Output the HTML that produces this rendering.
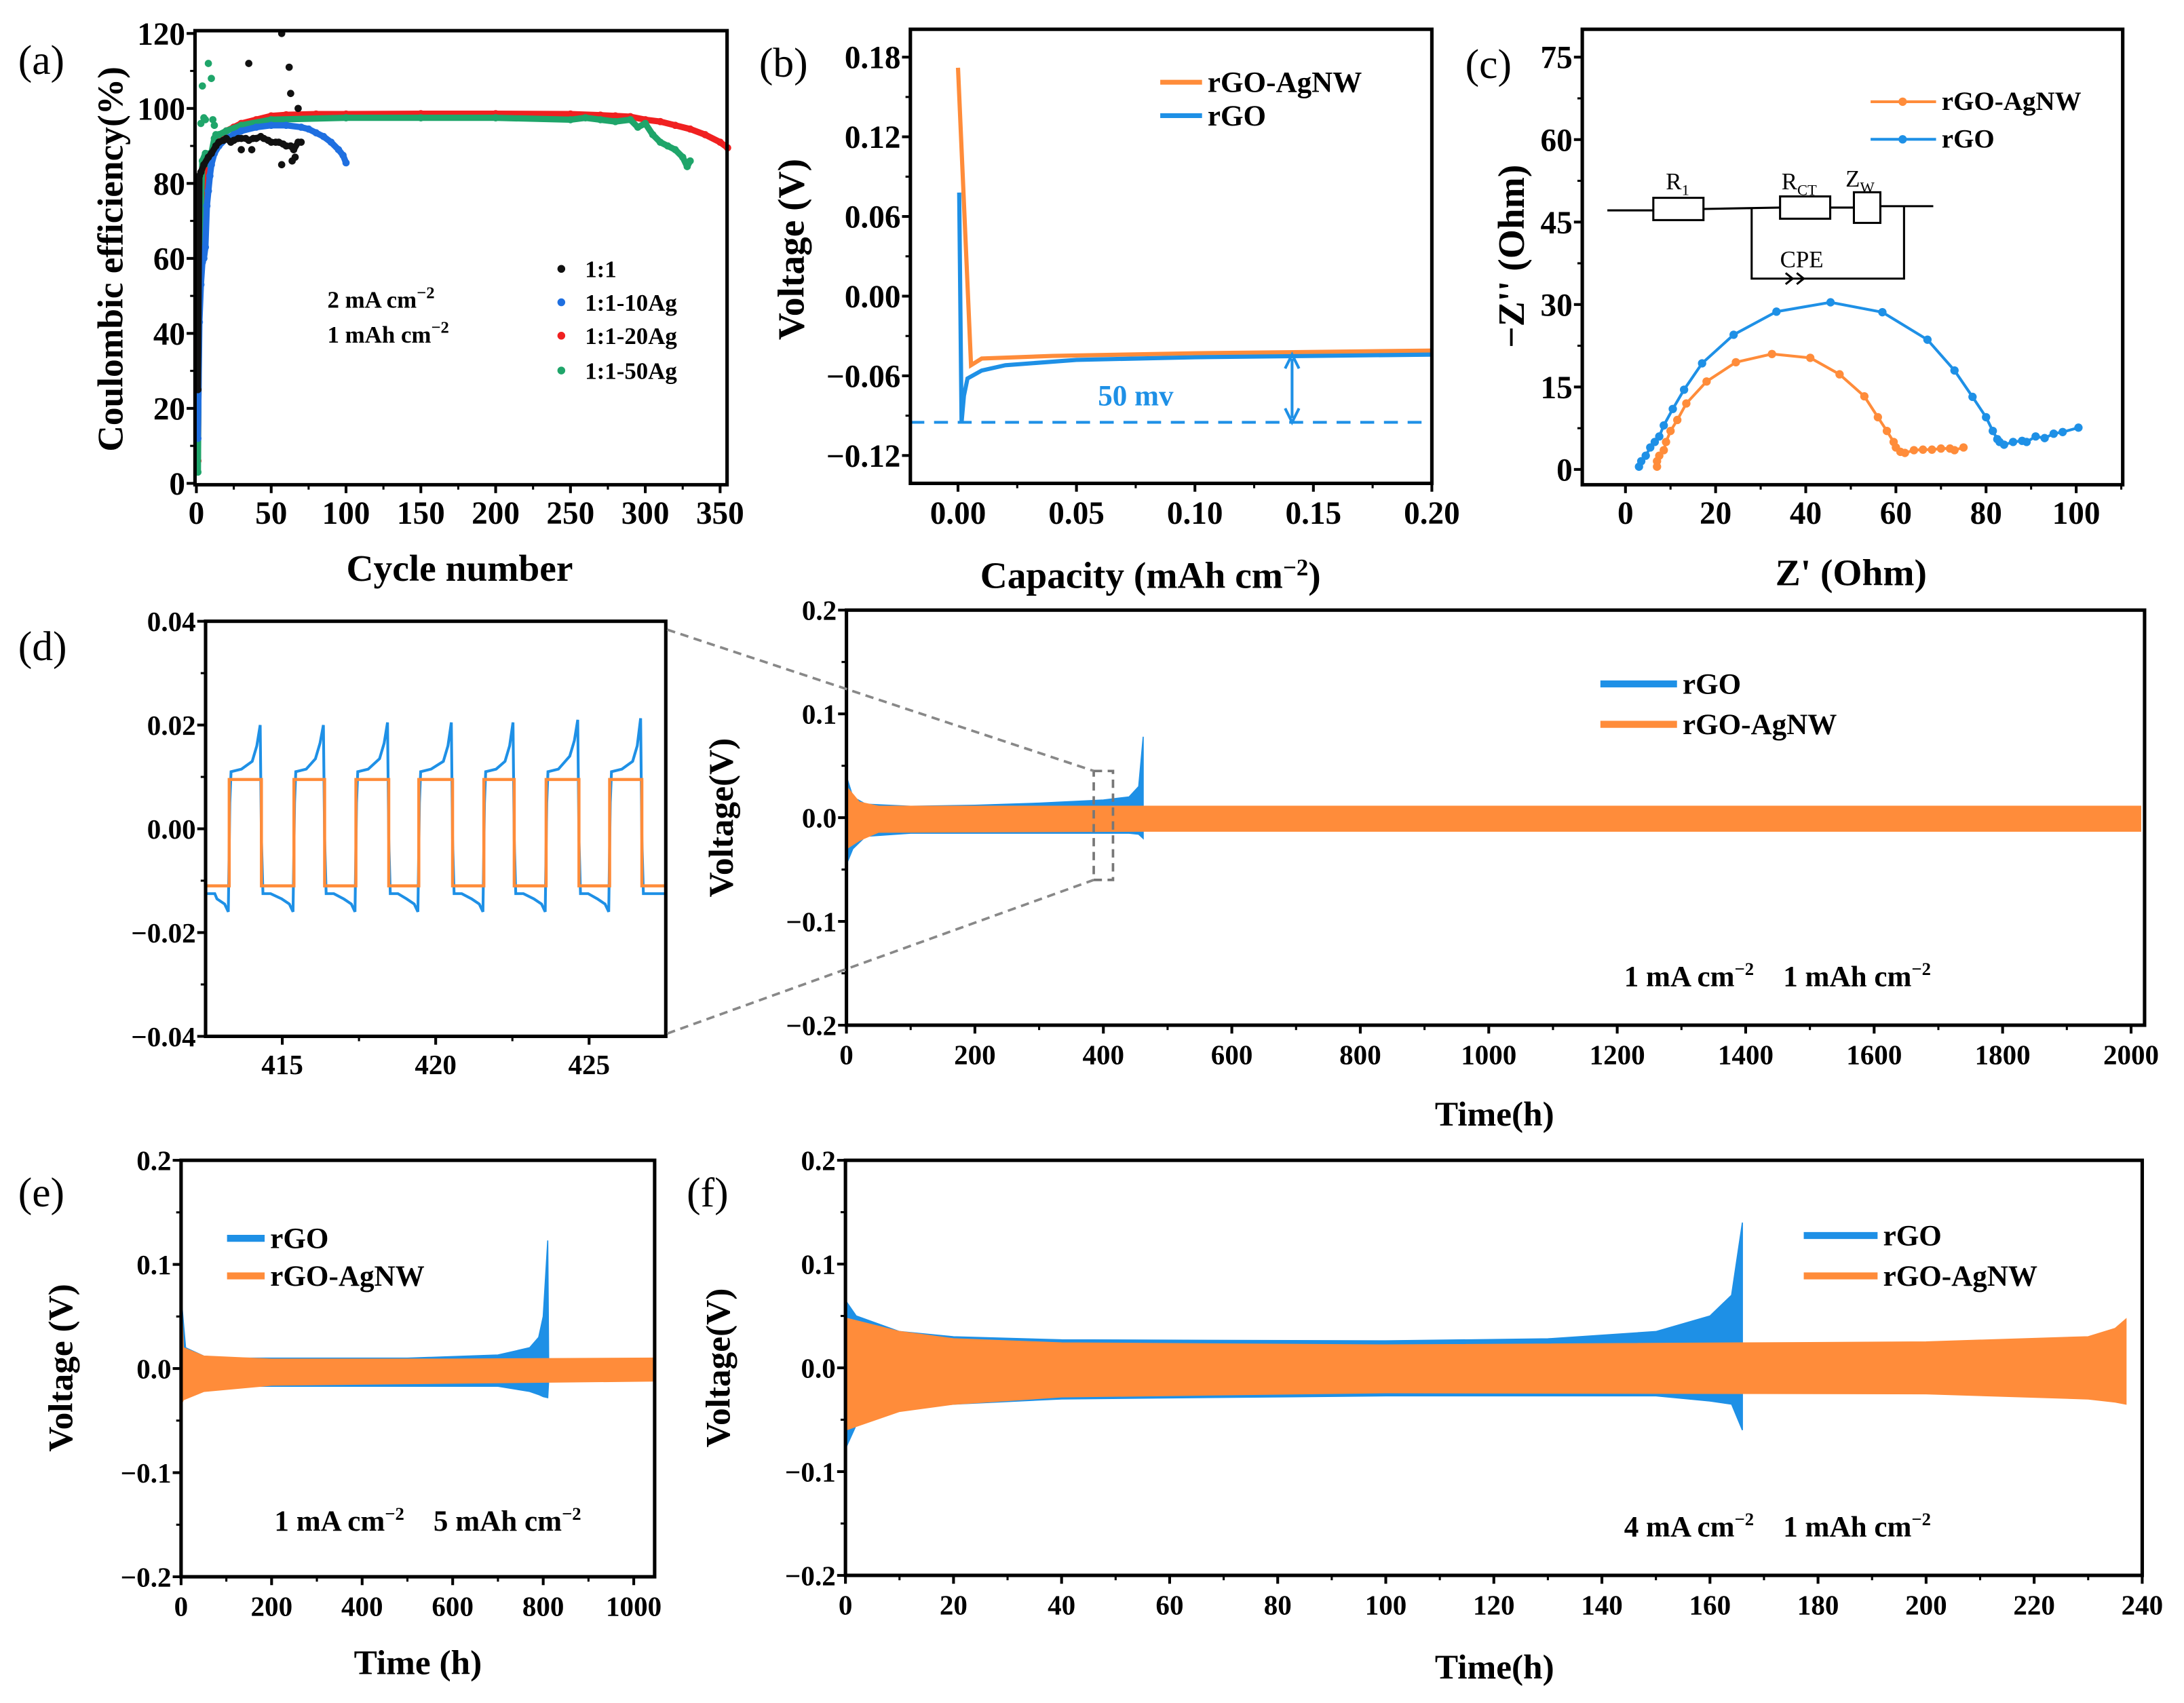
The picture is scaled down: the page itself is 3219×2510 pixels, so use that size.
<!DOCTYPE html>
<html><head><meta charset="utf-8">
<style>
html,body{margin:0;padding:0;background:#fff;}
svg{display:block;}
text{font-family:"Liberation Serif",serif;}
</style></head>
<body>
<svg id="fig" xmlns="http://www.w3.org/2000/svg" width="3219" height="2510" viewBox="0 0 1568 1222.6">
<rect x="0" y="0" width="1568" height="1222.6" fill="#fff"/>
</svg>
<script>
// ---------- DATA ----------
// (a) coulombic efficiency
const aBlackCycles=[1,2,3,5,8,10,13,15,18,20,23,25,28,30,33,35,38,40,43,45,48,50,53,55,58,60,63,65,68,70];
const aBlackCE=[25,82,83,85,87,88,90,91,91.5,92,91,91.5,92,92,92,91.5,92,92,92.5,92,91.5,91,91,91,90.5,90,90,89,91,91];
const aBlackOutC=[35,57,62,63,68,57,30,37,66,64];
const aBlackOutV=[112,120,111,104,100,85,89,89,87,86];
const aBlueCycles=[1,2,3,4,5,6,7,8,9,10,12,15,20,25,30,40,50,60,70,75,80,85,90,95,98,100];
const aBlueCE=[12,43,53,59,60,63,74,78,82,85,88,90,92,93,94,95,95.5,95.5,95,94.5,93.5,92.5,91,89,87.5,85.5];
const aRedCycles=[1,2,3,4,5,6,7,8,10,12,15,20,25,30,40,50,60,80,100,150,200,250,270,280,290,300,310,320,330,340,350,355];
const aRedCE=[6,56,67,70,72,75,81,85,88,90,92,94,95,96,97,98,98.3,98.5,98.5,98.6,98.6,98.5,98.2,98,97.8,97,96.5,95.5,94.5,93,91,89.5];
const aGreenCycles=[1,2,4,6,10,12,13,15,20,30,50,100,150,200,250,260,270,280,290,295,300,305,310,315,320,325,328,330];
const aGreenCE=[3,63,86,88,88,92,93,93,94,95.5,97,97.5,97.5,97.5,97,97.5,97,96.5,97,95,96,93,91,90,89,87,84.5,86];
const aGreenOutC=[3,4,5,6,8,10,11,12,9];
const aGreenOutV=[96,106,97.5,97,112,108,97,95.5,85];
// (b) voltage vs capacity
const bOrangeCap=[0,0.0055,0.01,0.04,0.1,0.2];
const bOrangeV=[0.172,-0.052,-0.047,-0.045,-0.043,-0.041];
const bBlueCap=[0.0005,0.0015,0.0025,0.004,0.01,0.02,0.05,0.1,0.2];
const bBlueV=[0.078,-0.095,-0.075,-0.062,-0.056,-0.052,-0.048,-0.046,-0.044];
// (c) Nyquist
const cOrangeZr=[7,7,7.5,8.5,9,10,11.5,13.5,18,24.5,32.5,41,47.5,53,56,58,59.5,60,61,62,64,66,68,70,72,73,75];
const cOrangeZi=[0.5,1.5,2.5,3.5,5,7,9,12,16,19.5,21,20.3,17.3,13.3,9.5,7,5,4,3.2,3,3.5,3.6,3.6,3.8,3.8,3.5,4];
const cBlueZr=[3,3.5,4.5,5.5,6.5,7.5,8.5,10.5,13,17,24,33.5,45.5,57,67,73,77,80,81.5,82.5,83,84,86,88,89,91,93,95,97,100.5];
const cBlueZi=[0.5,1.5,2.5,4,5,6,8,11,14.5,19.3,24.5,28.7,30.4,28.6,23.6,18,13.2,9.5,7,5.5,5,4.5,5,5.2,5,6,5.7,6.5,6.8,7.6];
// (d) inset square waves
const dRise=[413.27,415.38,417.4,419.45,421.57,423.6,425.67];
const dFall=[414.32,416.38,418.47,420.55,422.56,424.67,426.72];
const dOrangeHigh=[0.0095,0.0095,0.0095,0.0095,0.0095,0.0095,0.0095];
const dOrangeLow=[-0.011,-0.011,-0.011,-0.011,-0.011,-0.011,-0.011];
const dBlueHighStart=[0.011,0.011,0.011,0.011,0.011,0.011,0.011];
const dBlueHighEnd=[0.013,0.0135,0.0135,0.013,0.013,0.014,0.013];
const dBluePeak=[0.02,0.02,0.0205,0.0205,0.0205,0.021,0.0213];
const dBlueLowStart=[-0.0125,-0.0125,-0.0125,-0.0125,-0.0125,-0.0125,-0.0125];
const dBlueLowEnd=[-0.016,-0.016,-0.016,-0.016,-0.016,-0.016,-0.016];
// (d) main envelopes
const dmBlueT=[0,10,30,100,200,300,400,440,455,462];
const dmBlueUp=[0.04,0.02,0.013,0.011,0.012,0.014,0.017,0.02,0.03,0.078];
const dmBlueLo=[-0.045,-0.03,-0.018,-0.015,-0.015,-0.015,-0.015,-0.015,-0.016,-0.02];
const dmOrT=[0,20,50,460,1000,1500,2015];
const dmOrUp=[0.03,0.015,0.011,0.011,0.011,0.011,0.011];
const dmOrLo=[-0.03,-0.022,-0.014,-0.013,-0.013,-0.013,-0.013];
// (e) envelopes
const eBlueT=[0,10,50,100,500,700,770,790,800,810,812];
const eBlueUp=[0.07,0.02,0.012,0.01,0.01,0.013,0.02,0.03,0.05,0.123,0.01];
const eBlueLo=[-0.03,-0.025,-0.02,-0.017,-0.017,-0.017,-0.022,-0.025,-0.027,-0.028,-0.012];
const eOrT=[0,5,50,200,600,1046];
const eOrUp=[0.075,0.02,0.012,0.009,0.009,0.01];
const eOrLo=[-0.035,-0.03,-0.022,-0.016,-0.014,-0.012];
// (f) envelopes
const fBlueT=[0,2,10,20,40,100,130,150,160,164,166];
const fBlueUp=[0.065,0.05,0.035,0.03,0.027,0.026,0.028,0.035,0.05,0.07,0.14];
const fBlueLo=[-0.078,-0.055,-0.04,-0.035,-0.03,-0.027,-0.027,-0.027,-0.032,-0.035,-0.06];
const fOrT=[0,10,20,40,100,200,230,235,237];
const fOrUp=[0.048,0.035,0.028,0.024,0.022,0.025,0.03,0.038,0.047];
const fOrLo=[-0.06,-0.042,-0.035,-0.028,-0.024,-0.025,-0.03,-0.033,-0.035];

// ---------- HELPERS ----------
const NS="http://www.w3.org/2000/svg";
const svg=document.getElementById('fig');
const BLUE="#1e90e6", ORANGE="#ff8c3a";
function mk(tag,attrs,parent){const e=document.createElementNS(NS,tag);for(const k in attrs)e.setAttribute(k,attrs[k]);(parent||svg).appendChild(e);return e;}
function txt(s,x,y,size,opts,parent){opts=opts||{};const t=mk('text',{x:x,y:y,'font-size':size,'font-weight':opts.w||'bold','text-anchor':opts.a||'start',fill:opts.fill||'#000'},parent);if(opts.rot)t.setAttribute('transform','rotate(-90 '+x+' '+y+')');t.innerHTML=s;return t;}
function lin(d0,d1,p0,p1){return v=>p0+(v-d0)*(p1-p0)/(d1-d0);}

function axes(g,P){
  const f=mk('rect',{x:P.L,y:P.T,width:P.R-P.L,height:P.B-P.T,fill:'none',stroke:'#000','stroke-width':2.5},g);
  
  
  const xt=mk('g',{},g);
  
  
  for(let i=0;i<P.xt.length;i++){const x=P.sx(P.xt[i]);
    mk('line',{x1:x,y1:P.B,x2:x,y2:P.B+6,stroke:'#000','stroke-width':2},xt);
    txt(P.xl[i],x,P.B+P.xo,P.fs,{a:'middle'},xt);}
  for(const v of P.xm){const x=P.sx(v);mk('line',{x1:x,y1:P.B,x2:x,y2:P.B+3.5,stroke:'#000','stroke-width':1.5},xt);}
  const yt=mk('g',{},g);
  
  
  for(let i=0;i<P.yt.length;i++){const y=P.sy(P.yt[i]);
    mk('line',{x1:P.L-6,y1:y,x2:P.L,y2:y,stroke:'#000','stroke-width':2},yt);
    txt(P.yl[i],P.L-7,y+P.fs*0.35,P.fs,{a:'end'},yt);}
  for(const v of P.ym){const y=P.sy(v);mk('line',{x1:P.L-3.5,y1:y,x2:P.L,y2:y,stroke:'#000','stroke-width':1.5},yt);}
}
function range(a,b,s){const r=[];for(let v=a;v<=b+1e-9;v+=s)r.push(+v.toFixed(6));return r;}
function env(g,sx,sy,T,U,Lo,color,name){
  let pts=[];for(let i=0;i<T.length;i++)pts.push(sx(T[i])+','+sy(U[i]));
  for(let i=T.length-1;i>=0;i--)pts.push(sx(T[i])+','+sy(Lo[i]));
  const p=mk('polygon',{points:pts.join(' '),fill:color,stroke:color,'stroke-width':0.8},g);
  
  
  return p;
}
function legendLine(g,x1,x2,y,color,label,w,name){
  const lg=mk('g',{},g);
  
  
  mk('line',{x1:x1,y1:y,x2:x2,y2:y,stroke:color,'stroke-width':w||4},lg);
  txt(label,x2+4,y+7,21,{},lg);
  return lg;
}
const SP='&#160;&#160;&#160;&#160;';

// ---------- PANEL A ----------
(function(){
  const g=mk('g',{});
  
  
  const sx=lin(0,350,141,517), sy=lin(0,120,347,24);
  const P={L:140,R:522,T:22,B:348,sx:sx,sy:sy,fs:23,xo:28,
    xt:range(0,350,50),xl:range(0,350,50).map(String),xm:range(25,325,50),
    yt:range(0,120,20),yl:range(0,120,20).map(String),ym:range(10,110,20)};
  function series(C,V,color,name,line){
    const sg=mk('g',{},g);
    
    
    if(line){mk('polyline',{points:C.map((c,i)=>sx(c)+','+sy(V[i])).join(' '),fill:'none',stroke:color,'stroke-width':4.5,'stroke-linejoin':'round'},sg);}
    for(let i=0;i<C.length;i++){const d=mk('circle',{cx:sx(C[i]),cy:sy(V[i]),r:2.6,fill:color},sg);
      
      }
  }
  series(aRedCycles,aRedCE,'#f02020','series-1-1-20ag',true);
  series(aGreenCycles,aGreenCE,'#1fa56a','series-1-1-50ag',true);
  series(aGreenOutC,aGreenOutV,'#1fa56a','series-1-1-50ag-scatter',false);
  series(aBlueCycles,aBlueCE,'#1f6fe0','series-1-1-10ag',true);
  series(aBlackCycles,aBlackCE,'#111','series-1-1',true);
  series(aBlackOutC,aBlackOutV,'#111','series-1-1-scatter',false);
  axes(g,P);
  const lab=txt('(a)',13,53,30,{w:'normal'},g);
  
  
  const yt=txt('Coulombic efficiency(%)',88,186,26,{a:'middle',rot:true},g);
  
  
  const xt=txt('Cycle number',330,417,27,{a:'middle'},g);
  
  
  const cond=txt('2 mA cm<tspan dy="-7" font-size="12">−2</tspan>',235,221,17,{},g);
  
  
  const cond2=txt('1 mAh cm<tspan dy="-7" font-size="12">−2</tspan>',235,246,17,{},g);
  
  
  const labels=['1:1','1:1-10Ag','1:1-20Ag','1:1-50Ag'], cols=['#111','#1f6fe0','#f02020','#1fa56a'], ys=[193,217,241,266];
  for(let i=0;i<4;i++){const lg=mk('g',{},g);
    
    
    mk('circle',{cx:403,cy:ys[i],r:2.8,fill:cols[i]},lg);txt(labels[i],420,ys[i]+6,17,{},lg);}
})();

// ---------- PANEL B ----------
(function(){
  const g=mk('g',{});
  
  
  const sx=lin(0,0.2,687.8,1028), sy=lin(0.18,-0.12,41,327);
  const yv=[0.18,0.12,0.06,0,-0.06,-0.12];
  const P={L:653.6,R:1028,T:21,B:347,sx:sx,sy:sy,fs:23,xo:29,
    xt:[0,0.05,0.1,0.15,0.2],xl:['0.00','0.05','0.10','0.15','0.20'],xm:[0.025,0.075,0.125,0.175],
    yt:yv,yl:['0.18','0.12','0.06','0.00','−0.06','−0.12'],ym:[0.15,0.09,0.03,-0.03,-0.09]};
  const dl=mk('line',{x1:P.L,x2:P.R,y1:sy(-0.095),y2:sy(-0.095),stroke:BLUE,'stroke-width':2,'stroke-dasharray':'10 7'},g);
  
  
  const o=mk('polyline',{points:bOrangeCap.map((c,i)=>sx(c)+','+sy(bOrangeV[i])).join(' '),fill:'none',stroke:ORANGE,'stroke-width':3},g);
  
  
  const b=mk('polyline',{points:bBlueCap.map((c,i)=>sx(c)+','+sy(bBlueV[i])).join(' '),fill:'none',stroke:BLUE,'stroke-width':3},g);
  
  
  const ax=sx(0.141), ya=sy(-0.044), yb=sy(-0.095);
  const ar=mk('g',{},g);
  
  
  mk('line',{x1:ax,x2:ax,y1:ya+3,y2:yb-3,stroke:BLUE,'stroke-width':2},ar);
  mk('path',{d:`M${ax-5},${ya+10} L${ax},${ya} L${ax+5},${ya+10} M${ax-5},${yb-10} L${ax},${yb} L${ax+5},${yb-10}`,fill:'none',stroke:BLUE,'stroke-width':2},ar);
  const t=txt('50 mv',sx(0.075),sy(-0.075)+7,21,{a:'middle',fill:BLUE},g);
  
  
  axes(g,P);
  legendLine(g,833,863,59,ORANGE,'rGO-AgNW',3.5,'legend-rgo-agnw');
  legendLine(g,833,863,83,BLUE,'rGO',3.5,'legend-rgo');
  const lab=txt('(b)',545,55,30,{w:'normal'},g);
  
  
  const yt=txt('Voltage (V)',577,179,27,{a:'middle',rot:true},g);
  
  
  const xt=txt('Capacity (mAh cm<tspan dy="-9" font-size="17">−2</tspan><tspan dy="9">)</tspan>',826,422,27,{a:'middle'},g);
  
  
})();

// ---------- PANEL C ----------
(function(){
  const g=mk('g',{});
  
  
  const sx=lin(0,100,1167,1490.6), sy=lin(0,75,337,41);
  const P={L:1136,R:1524,T:21,B:348,sx:sx,sy:sy,fs:23,xo:28,
    xt:range(0,100,20),xl:range(0,100,20).map(String),xm:range(-10,110,20).filter(v=>sx(v)>1136&&sx(v)<1524),
    yt:range(0,75,15),yl:range(0,75,15).map(String),ym:range(7.5,67.5,15)};
  function ser(X,Y,color,name){
    const sg=mk('g',{},g);
    
    
    mk('polyline',{points:X.map((c,i)=>sx(c)+','+sy(Y[i])).join(' '),fill:'none',stroke:color,'stroke-width':2},sg);
    for(let i=0;i<X.length;i++){const d=mk('circle',{cx:sx(X[i]),cy:sy(Y[i]),r:3,fill:color},sg);
      
      }
  }
  ser(cBlueZr,cBlueZi,BLUE,'rgo-series');
  ser(cOrangeZr,cOrangeZi,ORANGE,'rgo-agnw-series');
  axes(g,P);
  const cg=mk('g',{fill:'none',stroke:'#000','stroke-width':1.5},g);
  
  
  mk('path',{d:'M1154,151 L1187,151 M1223,150 L1278,149 M1314,149 L1331,149 M1350,148 L1388,148 M1257.6,149 L1257.6,200 L1367,200 L1367,148'},cg);
  mk('rect',{x:1187,y:142,width:36,height:16},cg);
  mk('rect',{x:1278,y:141,width:36,height:16},cg);
  mk('rect',{x:1331,y:138,width:19,height:22},cg);
  mk('path',{d:'M1282,196 L1287,200 L1282,204 M1290,196 L1295,200 L1290,204'},cg);
  const ct=mk('g',{},g);
  
  
  function sans(s,x,y,size){const t=mk('text',{x:x,y:y,'font-size':size,'font-family':'Liberation Sans, sans-serif'},ct);t.innerHTML=s;}
  sans('R<tspan dy="4" font-size="11">1</tspan>',1196,136,17);
  sans('R<tspan dy="4" font-size="11">CT</tspan>',1279,136,17);
  sans('Z<tspan dy="4" font-size="11">W</tspan>',1325,134,17);
  sans('CPE',1278,192,17);
  const l1=mk('g',{},g);
  
  
  mk('line',{x1:1343,x2:1390,y1:73,y2:73,stroke:ORANGE,'stroke-width':2},l1);mk('circle',{cx:1366,cy:73,r:3,fill:ORANGE},l1);txt('rGO-AgNW',1394,79,19,{},l1);
  const l2=mk('g',{},g);
  
  
  mk('line',{x1:1343,x2:1390,y1:100,y2:100,stroke:BLUE,'stroke-width':2},l2);mk('circle',{cx:1366,cy:100,r:3,fill:BLUE},l2);txt('rGO',1394,106,19,{},l2);
  const lab=txt('(c)',1052,56,30,{w:'normal'},g);
  
  
  const yt=txt("−Z'' (Ohm)",1094,184,27,{a:'middle',rot:true},g);
  
  
  const xt=txt("Z' (Ohm)",1329,420,27,{a:'middle'},g);
  
  
})();

// ---------- PANEL D ----------
(function(){
  const g=mk('g',{});
  
  
  const gi=mk('g',{},g);
  
  
  const ix=lin(412.5,427.5,147.6,478), iy=lin(0.04,-0.04,446,744);
  const PI={L:147.6,R:478,T:446,B:744,sx:ix,sy:iy,fs:20,xo:27,
    xt:[415,420,425],xl:['415','420','425'],xm:[417.5,422.5],
    yt:[0.04,0.02,0,-0.02,-0.04],yl:['0.04','0.02','0.00','−0.02','−0.04'],ym:[0.03,0.01,-0.01,-0.03]};
  let bp=[], op=[];
  for(let i=0;i<dRise.length;i++){
    const r=dRise[i], f=dFall[i];
    const prevF=i>0?dFall[i-1]:412.5;
    bp.push([prevF+0.05,dBlueLowStart[i]],[prevF+0.3,dBlueLowStart[i]],[r-0.4,dBlueLowStart[i]-0.001],[r-0.15,dBlueLowEnd[i]+0.0015],[r-0.03,dBlueLowEnd[i]]);
    op.push([prevF,dOrangeLow[i]],[r,dOrangeLow[i]]);
    bp.push([r+0.02,0.005],[r+0.06,dBlueHighStart[i]],[r+0.4,dBlueHighStart[i]+0.0005],[f-0.3,dBlueHighEnd[i]],[f-0.15,dBlueHighEnd[i]+0.003],[f-0.04,dBluePeak[i]],[f,-0.002]);
    op.push([r,dOrangeHigh[i]],[f,dOrangeHigh[i]]);
  }
  bp.push([dFall[dFall.length-1]+0.05,dBlueLowStart[0]],[427.5,dBlueLowStart[0]]);
  op.push([dFall[dFall.length-1],dOrangeLow[0]],[427.5,dOrangeLow[0]]);
  const bl=mk('polyline',{points:bp.map(p=>ix(p[0])+','+iy(p[1])).join(' '),fill:'none',stroke:BLUE,'stroke-width':2},gi);
  
  
  const ol=mk('polyline',{points:op.map(p=>ix(p[0])+','+iy(p[1])).join(' '),fill:'none',stroke:ORANGE,'stroke-width':2.2},gi);
  
  
  axes(gi,PI);
  const sx=lin(0,2000,607.7,1530), sy=lin(0.2,-0.2,438,736);
  const P={L:607.7,R:1539.7,T:438,B:736,sx:sx,sy:sy,fs:20,xo:28,
    xt:range(0,2000,200),xl:range(0,2000,200).map(String),xm:range(100,1900,200),
    yt:[0.2,0.1,0,-0.1,-0.2],yl:['0.2','0.1','0.0','−0.1','−0.2'],ym:[0.15,0.05,-0.05,-0.15]};
  env(g,sx,sy,dmBlueT,dmBlueUp,dmBlueLo,BLUE,'rgo-envelope');
  env(g,sx,sy,dmOrT,dmOrUp,dmOrLo,ORANGE,'rgo-agnw-envelope');
  axes(g,P);
  const zr=mk('rect',{x:sx(385),y:sy(0.045),width:sx(415)-sx(385),height:sy(-0.06)-sy(0.045),fill:'none',stroke:'#777','stroke-width':1.8,'stroke-dasharray':'6 4'},g);
  
  
  const zl=mk('path',{d:`M479,452 L${sx(385)},${sy(0.045)} M479,742 L${sx(385)},${sy(-0.06)}`,stroke:'#888','stroke-width':1.8,'stroke-dasharray':'6 4',fill:'none'},g);
  
  
  legendLine(g,1149,1204,491,BLUE,'rGO',5,'legend-rgo');
  legendLine(g,1149,1204,520,ORANGE,'rGO-AgNW',5,'legend-rgo-agnw');
  const c=txt('1 mA cm<tspan dy="-8" font-size="13">−2</tspan><tspan dy="8">'+SP+'1 mAh cm</tspan><tspan dy="-8" font-size="13">−2</tspan>',1166,708,21,{},g);
  
  
  const lab=txt('(d)',13,474,30,{w:'normal'},g);
  
  
  const yt=txt('Voltage(V)',526,587,25,{a:'middle',rot:true},g);
  
  
  const xt=txt('Time(h)',1073,808,25,{a:'middle'},g);
  
  
})();

// ---------- PANEL E ----------
(function(){
  const g=mk('g',{});
  
  
  const sx=lin(0,1000,130,455), sy=lin(0.2,-0.2,833,1132);
  const P={L:130,R:470,T:833,B:1132,sx:sx,sy:sy,fs:20,xo:28,
    xt:range(0,1000,200),xl:range(0,1000,200).map(String),xm:range(100,900,200),
    yt:[0.2,0.1,0,-0.1,-0.2],yl:['0.2','0.1','0.0','−0.1','−0.2'],ym:[0.15,0.05,-0.05,-0.15]};
  env(g,sx,sy,eBlueT,eBlueUp,eBlueLo,BLUE,'rgo-envelope');
  env(g,sx,sy,eOrT,eOrUp,eOrLo,ORANGE,'rgo-agnw-envelope');
  axes(g,P);
  legendLine(g,163,190,889,BLUE,'rGO',5,'legend-rgo');
  legendLine(g,163,190,916,ORANGE,'rGO-AgNW',5,'legend-rgo-agnw');
  const c=txt('1 mA cm<tspan dy="-8" font-size="13">−2</tspan><tspan dy="8">'+SP+'5 mAh cm</tspan><tspan dy="-8" font-size="13">−2</tspan>',197,1099,21,{},g);
  
  
  const lab=txt('(e)',13,866,30,{w:'normal'},g);
  
  
  const yt=txt('Voltage (V)',52,982,25,{a:'middle',rot:true},g);
  
  
  const xt=txt('Time (h)',300,1202,25,{a:'middle'},g);
  
  
})();

// ---------- PANEL F ----------
(function(){
  const g=mk('g',{});
  
  
  const sx=lin(0,240,607,1538), sy=lin(0.2,-0.2,833,1131);
  const P={L:607,R:1538,T:833,B:1131,sx:sx,sy:sy,fs:20,xo:28,
    xt:range(0,240,20),xl:range(0,240,20).map(String),xm:range(10,230,20),
    yt:[0.2,0.1,0,-0.1,-0.2],yl:['0.2','0.1','0.0','−0.1','−0.2'],ym:[0.15,0.05,-0.05,-0.15]};
  env(g,sx,sy,fBlueT,fBlueUp,fBlueLo,BLUE,'rgo-envelope');
  env(g,sx,sy,fOrT,fOrUp,fOrLo,ORANGE,'rgo-agnw-envelope');
  axes(g,P);
  legendLine(g,1295,1348,887,BLUE,'rGO',5,'legend-rgo');
  legendLine(g,1295,1348,916,ORANGE,'rGO-AgNW',5,'legend-rgo-agnw');
  const c=txt('4 mA cm<tspan dy="-8" font-size="13">−2</tspan><tspan dy="8">'+SP+'1 mAh cm</tspan><tspan dy="-8" font-size="13">−2</tspan>',1166,1103,21,{},g);
  
  
  const lab=txt('(f)',493,866,30,{w:'normal'},g);
  
  
  const yt=txt('Voltage(V)',524,982,25,{a:'middle',rot:true},g);
  
  
  const xt=txt('Time(h)',1073,1205,25,{a:'middle'},g);
  
  
})();
</script>
</body></html>
